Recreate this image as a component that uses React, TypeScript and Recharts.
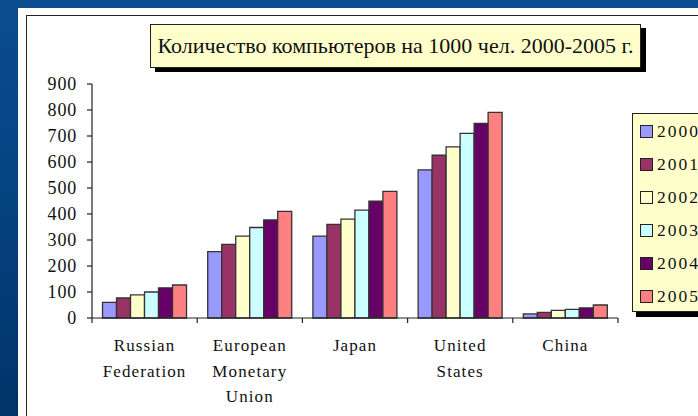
import React from 'react';
import { BarChart, Bar, XAxis, YAxis } from 'recharts';

// computers per 1000 people, 2000-2005
const categories = ['Russian Federation', 'European Monetary Union', 'Japan', 'United States', 'China'];
const categoryLines = [['Russian', 'Federation'], ['European', 'Monetary', 'Union'], ['Japan'], ['United', 'States'], ['China']];
const years = ['2000', '2001', '2002', '2003', '2004', '2005'];
const v2000 = [60, 255, 315, 570, 16];
const v2001 = [77, 283, 360, 626, 22];
const v2002 = [89, 315, 380, 658, 29];
const v2003 = [100, 348, 415, 710, 33];
const v2004 = [116, 377, 449, 748, 39];
const v2005 = [127, 410, 487, 791, 50];
const yTicks = [0, 100, 200, 300, 400, 500, 600, 700, 800, 900];
const colors = ['#9999FF', '#993366', '#FFFFCC', '#CCFFFF', '#660066', '#FF8080'];
const title = 'Количество компьютеров на 1000 чел. 2000-2005 г.';

const series = [v2000, v2001, v2002, v2003, v2004, v2005];
const data = categories.map((name, i) => {
  const row: any = { name, idx: i };
  years.forEach((y, j) => (row[y] = series[j][i]));
  return row;
});

const serif = '"Liberation Serif", "Times New Roman", serif';

const CategoryTick = (props: any) => {
  const { x, y, payload, index } = props;
  const half = payload && payload.offset ? payload.offset : 52.5;
  const i = payload.index ?? index;
  const lines = categoryLines[i] || [String(payload.value)];
  return (
    <g>
      <line x1={x - half} y1={y - 8} x2={x - half} y2={y - 3} stroke="#222" strokeWidth={1.2} />
      {i === categories.length - 1 && (
        <line x1={x + half} y1={y - 8} x2={x + half} y2={y - 3} stroke="#222" strokeWidth={1.2} />
      )}
      <text x={x} y={y} textAnchor="middle" fill="#111" fontFamily={serif} fontSize={17} letterSpacing={1.1}>
        {lines.map((l, k) => (
          <tspan key={k} x={x} dy={k === 0 ? 25 : 25.5}>
            {l}
          </tspan>
        ))}
      </text>
    </g>
  );
};

const LegendBox = () => (
  <div
    style={{
      position: 'absolute',
      left: 632,
      top: 113,
      width: 92,
      height: 199,
      boxSizing: 'border-box',
      background: '#FFFFCC',
      border: '1px solid #222',
      boxShadow: '4px 5px 0 #000',
      paddingTop: 1,
    }}
  >
    {years.map((y, i) => (
      <div key={y} style={{ display: 'flex', alignItems: 'center', height: 33, paddingLeft: 7 }}>
        <span
          style={{
            width: 11,
            height: 11,
            background: colors[i],
            border: '1px solid #222',
            display: 'inline-block',
          }}
        />
        <span style={{ fontFamily: serif, fontSize: 17.5, letterSpacing: 2, marginLeft: 4, color: '#111' }}>{y}</span>
      </div>
    ))}
  </div>
);

export default function App() {
  return (
    <div
      style={{
        position: 'absolute',
        left: 0,
        top: 0,
        width: 698,
        height: 416,
        overflow: 'hidden',
        background: 'linear-gradient(180deg, #0b4d90 0%, #054382 45%, #003468 100%)',
      }}
    >
      <div style={{ position: 'absolute', left: 18, top: 8, width: 700, height: 420, background: '#fff' }} />
      <div
        style={{
          position: 'absolute',
          left: 26,
          top: 15,
          width: 700,
          height: 420,
          borderLeft: '1.5px solid #222',
          borderTop: '1.5px solid #222',
        }}
      />
      <div
        style={{
          position: 'absolute',
          left: 150,
          top: 24,
          width: 491,
          height: 44,
          boxSizing: 'border-box',
          background: '#FFFFCC',
          border: '1px solid #222',
          boxShadow: '5px 4px 0 #000',
          fontFamily: serif,
          fontSize: 22,
          color: '#111',
          display: 'flex',
          alignItems: 'center',
          justifyContent: 'center',
          whiteSpace: 'nowrap',
        }}
      >
        {title}
      </div>
      <div style={{ position: 'absolute', left: 0, top: 0 }}>
        <BarChart
          width={698}
          height={416}
          data={data}
          margin={{ top: 84, right: 80, bottom: 38, left: 0 }}
          barCategoryGap="10%"
          barGap={0}
        >
          <XAxis
            dataKey="name"
            height={60}
            axisLine={{ stroke: '#222', strokeWidth: 1.2 }}
            tickLine={false}
            tick={<CategoryTick />}
            interval={0}
          />
          <YAxis
            width={92}
            domain={[0, 900]}
            ticks={yTicks}
            interval={0}
            axisLine={{ stroke: '#222', strokeWidth: 1.2 }}
            tickLine={{ stroke: '#222', strokeWidth: 1.2 }}
            tickSize={5}
            tick={{ fill: '#111', fontFamily: serif, fontSize: 18, letterSpacing: 0.8 }}
            tickMargin={10}
          />
          {years.map((y, i) => (
            <Bar
              key={y}
              dataKey={y}
              fill={colors[i]}
              stroke="#333"
              strokeWidth={1.3}
              isAnimationActive={false}
            />
          ))}
        </BarChart>
      </div>
      <LegendBox />
    </div>
  );
}
